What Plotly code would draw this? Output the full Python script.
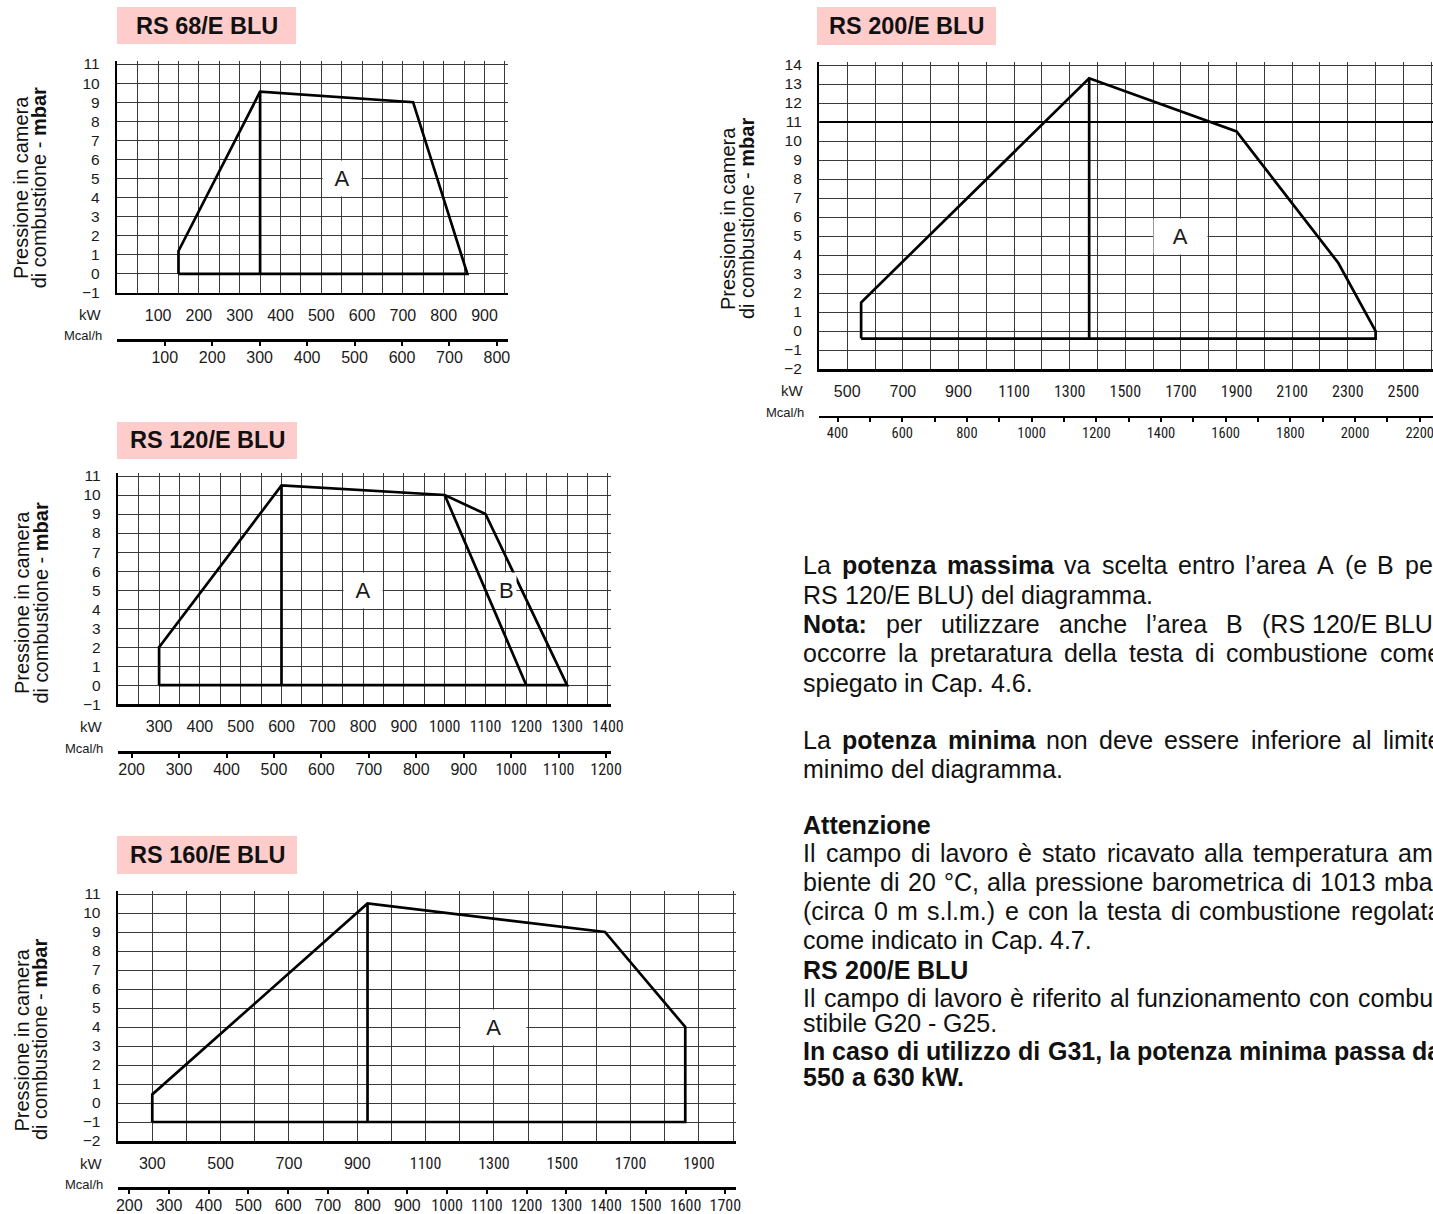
import plotly.graph_objects as go

W, H = 1433, 1214
KW_PER_MCAL = 1.163

# ------------------------------------------------------------------ data
titles = ["RS 68/E BLU", "RS 120/E BLU", "RS 160/E BLU", "RS 200/E BLU"]

# RS 68/E BLU
rs68_kw = [150, 150, 350, 725, 858, 150]
rs68_mbar = [0, 1.2, 9.55, 9.0, 0, 0]
rs68_split_kw = [350, 350]
rs68_split_mbar = [0, 9.55]
rs68_areas = ["A"]
rs68_area_kw = [550]
rs68_area_mbar = [5]
rs68_kw_range = [0, 950]
rs68_mbar_range = [-1, 11]
rs68_kw_labels = [100, 200, 300, 400, 500, 600, 700, 800, 900]
rs68_mcal_ticks = [100, 200, 300, 400, 500, 600, 700, 800]
rs68_mcal_labels = [100, 200, 300, 400, 500, 600, 700, 800]

# RS 120/E BLU
rs120_kw = [300, 300, 600, 1000, 1100, 1300, 300]
rs120_mbar = [0, 2.0, 10.5, 10.0, 9.0, 0, 0]
rs120_split_kw = [600, 600]
rs120_split_mbar = [0, 10.5]
rs120_ab_kw = [1000, 1200]
rs120_ab_mbar = [10.0, 0]
rs120_areas = ["A", "B"]
rs120_area_kw = [800, 1150]
rs120_area_mbar = [5, 5]
rs120_kw_range = [200, 1400]
rs120_mbar_range = [-1, 11]
rs120_kw_labels = [300, 400, 500, 600, 700, 800, 900, 1000, 1100, 1200, 1300, 1400]
rs120_mcal_ticks = [200, 300, 400, 500, 600, 700, 800, 900, 1000, 1100, 1200]
rs120_mcal_labels = [200, 300, 400, 500, 600, 700, 800, 900, 1000, 1100, 1200]

# RS 160/E BLU
rs160_kw = [300, 300, 930, 1625, 1860, 1860, 300]
rs160_mbar = [-1, 0.45, 10.5, 9.0, 4.0, -1, -1]
rs160_split_kw = [930, 930]
rs160_split_mbar = [-1, 10.5]
rs160_areas = ["A"]
rs160_area_kw = [1300]
rs160_area_mbar = [4]
rs160_kw_range = [200, 2000]
rs160_mbar_range = [-2, 11]
rs160_kw_labels = [300, 500, 700, 900, 1100, 1300, 1500, 1700, 1900]
rs160_mcal_ticks = [200, 300, 400, 500, 600, 700, 800, 900, 1000, 1100, 1200,
                    1300, 1400, 1500, 1600, 1700]
rs160_mcal_labels = [200, 300, 400, 500, 600, 700, 800, 900, 1000, 1100, 1200,
                     1300, 1400, 1500, 1600, 1700]

# RS 200/E BLU
rs200_kw = [550, 550, 1370, 1900, 2265, 2400, 2400, 550]
rs200_mbar = [-0.4, 1.5, 13.3, 10.5, 3.6, 0, -0.4, -0.4]
rs200_split_kw = [1370, 1370]
rs200_split_mbar = [-0.4, 13.3]
rs200_limit_mbar = 11
rs200_areas = ["A"]
rs200_area_kw = [1700]
rs200_area_mbar = [5]
rs200_kw_range = [400, 2600]
rs200_mbar_range = [-2, 14]
rs200_kw_labels = [500, 700, 900, 1100, 1300, 1500, 1700, 1900, 2100, 2300, 2500]
rs200_mcal_ticks = [400, 500, 600, 700, 800, 900, 1000, 1100, 1200, 1300, 1400,
                    1500, 1600, 1700, 1800, 1900, 2000, 2100, 2200]
rs200_mcal_labels = [400, 600, 800, 1000, 1200, 1400, 1600, 1800, 2000, 2200]

y_title_1 = "Pressione in camera"
y_title_2 = "di combustione - <b>mbar</b>"

text_lines = [
    (574.0, True, "La **potenza massima** va scelta entro l\u2019area A (e B per"),
    (603.3, False, "RS 120/E BLU) del diagramma."),
    (632.6, True, "**Nota:** per utilizzare anche l\u2019area B (RS\u00a0120/E\u00a0BLU)"),
    (661.9, True, "occorre la pretaratura della testa di combustione come"),
    (691.2, False, "spiegato in Cap. 4.6."),
    (748.6, True, "La **potenza minima** non deve essere inferiore al limite"),
    (777.9, False, "minimo del diagramma."),
    (833.3, False, "**Attenzione**"),
    (861.9, True, "Il campo di lavoro \u00e8 stato ricavato alla temperatura am-"),
    (891.0, True, "biente di 20 \u00b0C, alla pressione barometrica di 1013 mbar"),
    (920.0, True, "(circa 0 m s.l.m.) e con la testa di combustione regolata"),
    (949.0, False, "come indicato in Cap. 4.7."),
    (978.3, False, "**RS 200/E BLU**"),
    (1006.7, True, "Il campo di lavoro \u00e8 riferito al funzionamento con combu-"),
    (1031.7, False, "stibile G20 - G25."),
    (1059.3, True, "**In caso di utilizzo di G31, la potenza minima passa da**"),
    (1086.0, False, "**550 a 630 kW.**"),
]

# ------------------------------------------------------------------ layout config
FONT = "Liberation Sans, Arial, Helvetica, sans-serif"
NARROW = "Liberation Sans Narrow, Arial Narrow, Roboto Condensed, Liberation Sans, sans-serif"
GRID = "#3a3a3a"

charts = [
    dict(title=titles[0], kw=rs68_kw, mbar=rs68_mbar,
         lines=[(rs68_split_kw, rs68_split_mbar)],
         areas=(rs68_areas, rs68_area_kw, rs68_area_mbar, [2]),
         kw_range=rs68_kw_range, kw_step=50, mbar_range=rs68_mbar_range,
         kw_labels=rs68_kw_labels, mcal_ticks=rs68_mcal_ticks, mcal_labels=rs68_mcal_labels,
         hline=None, L=117.3, T=64, ppx=0.408, ppy=19.08, mcal_y=340,
         box=(117, 7, 296, 44), yt=(21.4, 39.8, 187.5), nk=99, nm=99, mfs=16),
    dict(title=titles[1], kw=rs120_kw, mbar=rs120_mbar,
         lines=[(rs120_split_kw, rs120_split_mbar), (rs120_ab_kw, rs120_ab_mbar)],
         areas=(rs120_areas, rs120_area_kw, rs120_area_mbar, [2, 1.15]),
         kw_range=rs120_kw_range, kw_step=50, mbar_range=rs120_mbar_range,
         kw_labels=rs120_kw_labels, mcal_ticks=rs120_mcal_ticks, mcal_labels=rs120_mcal_labels,
         hline=None, L=118.3, T=476, ppx=0.408, ppy=19.02, mcal_y=752,
         box=(117, 422, 297, 459), yt=(22.0, 40.5, 603), nk=4, nm=4, mfs=16),
    dict(title=titles[2], kw=rs160_kw, mbar=rs160_mbar,
         lines=[(rs160_split_kw, rs160_split_mbar)],
         areas=(rs160_areas, rs160_area_kw, rs160_area_mbar, [2]),
         kw_range=rs160_kw_range, kw_step=100, mbar_range=rs160_mbar_range,
         kw_labels=rs160_kw_labels, mcal_ticks=rs160_mcal_ticks, mcal_labels=rs160_mcal_labels,
         hline=None, L=118.1, T=894, ppx=0.34167, ppy=19.0, mcal_y=1188,
         box=(117, 836, 297, 874), yt=(21.5, 40.0, 1040), nk=4, nm=4, mfs=16),
    dict(title=titles[3], kw=rs200_kw, mbar=rs200_mbar,
         lines=[(rs200_split_kw, rs200_split_mbar)],
         areas=(rs200_areas, rs200_area_kw, rs200_area_mbar, [2]),
         kw_range=rs200_kw_range, kw_step=100, mbar_range=rs200_mbar_range,
         kw_labels=rs200_kw_labels, mcal_ticks=rs200_mcal_ticks, mcal_labels=rs200_mcal_labels,
         hline=rs200_limit_mbar, L=819.4, T=65, ppx=0.2781, ppy=19.0, mcal_y=416.7,
         box=(817, 7, 996, 45), yt=(728.0, 747.0, 219), nk=4, nm=0, mfs=14.5),
]


def px_x(p):
    return p / W


def px_y(p):
    return 1 - p / H


def tick_txt(v, narrow_from):
    s = str(v)
    if len(s) >= narrow_from:
        return '<span style="font-family:%s">%s</span>' % (NARROW, s)
    return s


fig = go.Figure()
layout = {}
annotations = []
shapes = []

for i, c in enumerate(charts):
    n = i + 1
    xid = "x" if n == 1 else "x%d" % n
    yid = "y" if n == 1 else "y%d" % n
    mid = "x%d" % (n + 4)
    xkey = "xaxis" if n == 1 else "xaxis%d" % n
    ykey = "yaxis" if n == 1 else "yaxis%d" % n
    mkey = "xaxis%d" % (n + 4)

    k0, k1 = c["kw_range"]
    y0, y1 = c["mbar_range"]
    ppx, ppy = c["ppx"], c["ppy"]
    Lpx = c["L"]
    Rpx = Lpx + (k1 - k0) * ppx
    pad_r = min(3.0, W - Rpx - 0.05)
    k1e = k1 + pad_r / ppx
    Tpx = c["T"]
    Bpx = Tpx + (y1 - y0) * ppy
    y1e = y1 + 3.0 / ppy

    grid = list(range(k0, k1 + 1, c["kw_step"]))
    kw_text = [tick_txt(g, c["nk"]) if g in c["kw_labels"] else "" for g in grid]

    layout[xkey] = dict(
        domain=[px_x(Lpx), px_x(Rpx + pad_r)], anchor=yid, range=[k0, k1e],
        tickmode="array", tickvals=grid, ticktext=kw_text,
        showgrid=True, gridcolor=GRID, gridwidth=1, zeroline=False,
        showline=True, linecolor="black", linewidth=2.5, mirror=False,
        ticks="", ticklabelstandoff=6, ticklabeloverflow="allow",
        tickfont=dict(family=FONT, size=16, color="#1a1a1a"), fixedrange=True,
    )
    layout[ykey] = dict(
        domain=[px_y(Bpx), px_y(Tpx - 3.0)], anchor=xid, range=[y0, y1e],
        tickmode="array", tickvals=list(range(y0, y1 + 1)),
        showgrid=True, gridcolor=GRID, gridwidth=1, zeroline=False,
        showline=True, linecolor="black", linewidth=2.5, mirror=False,
        ticks="", ticklabelstandoff=12,
        tickfont=dict(family=FONT, size=15.5, color="#1a1a1a"), fixedrange=True,
    )
    mcal_text = [tick_txt(t, c["nm"]) if t in c["mcal_labels"] else "" for t in c["mcal_ticks"]]
    layout[mkey] = dict(
        overlaying=xid, anchor="free", position=px_y(c["mcal_y"]), side="bottom",
        range=[k0 / KW_PER_MCAL, k1e / KW_PER_MCAL],
        tickmode="array", tickvals=c["mcal_ticks"], ticktext=mcal_text,
        showgrid=False, zeroline=False, showline=True, linecolor="black", linewidth=2.5,
        ticks="outside", ticklen=4, tickwidth=2, tickcolor="black", ticklabelstandoff=-2,
        ticklabeloverflow="allow",
        tickfont=dict(family=FONT, size=c["mfs"], color="#1a1a1a"), fixedrange=True,
    )

    # envelope and internal lines
    fig.add_trace(go.Scatter(x=c["kw"], y=c["mbar"], mode="lines", xaxis=xid, yaxis=yid,
                             line=dict(color="black", width=2.7), hoverinfo="skip",
                             showlegend=False, cliponaxis=False))
    for lx, ly in c["lines"]:
        fig.add_trace(go.Scatter(x=lx, y=ly, mode="lines", xaxis=xid, yaxis=yid,
                                 line=dict(color="black", width=2.7), hoverinfo="skip",
                                 showlegend=False, cliponaxis=False))
    fig.add_trace(go.Scatter(x=[None], y=[None], mode="lines", xaxis=mid, yaxis=yid,
                             hoverinfo="skip", showlegend=False))

    if c["hline"] is not None:
        shapes.append(dict(type="line", xref="%s domain" % xid, yref=yid, x0=0, x1=1,
                           y0=c["hline"], y1=c["hline"], line=dict(color="black", width=2.2)))

    # area letters
    names, akw, ambar, acols = c["areas"]
    for nm_, ax_, ay_, cols in zip(names, akw, ambar, acols):
        annotations.append(dict(x=ax_, y=ay_, xref=xid, yref=yid, text=nm_, showarrow=False,
                                bgcolor="white", borderpad=0,
                                width=cols * c["kw_step"] * ppx - 3, height=2 * ppy - 3,
                                font=dict(family=FONT, size=22, color="#1a1a1a")))

    # title box
    bx0, by0, bx1, by1 = c["box"]
    shapes.append(dict(type="rect", xref="paper", yref="paper", x0=px_x(bx0), x1=px_x(bx1),
                       y0=px_y(by1), y1=px_y(by0), fillcolor="#FFCCCC", line=dict(width=0),
                       layer="below"))
    annotations.append(dict(x=px_x((bx0 + bx1) / 2), y=px_y((by0 + by1) / 2), xref="paper",
                            yref="paper", text="<b>%s</b>" % c["title"], showarrow=False,
                            xanchor="center", yanchor="middle", borderpad=0,
                            font=dict(family=FONT, size=23.5, color="#111111")))

    # y titles
    t1x, t2x, ty = c["yt"]
    for tx, tt in ((t1x, y_title_1), (t2x, y_title_2)):
        annotations.append(dict(x=px_x(tx), y=px_y(ty), xref="paper", yref="paper", text=tt,
                                textangle=-90, showarrow=False, xanchor="center",
                                yanchor="middle", borderpad=0,
                                font=dict(family=FONT, size=20, color="#111111")))

    # unit labels
    annotations.append(dict(x=px_x(Lpx - 14), y=px_y(Bpx + 22), xref="paper", yref="paper",
                            text="kW", showarrow=False, xanchor="right", yanchor="middle",
                            borderpad=0, font=dict(family=FONT, size=15, color="#1a1a1a")))
    annotations.append(dict(x=px_x(Lpx - 14), y=px_y(c["mcal_y"] - 4), xref="paper",
                            yref="paper", text="Mcal/h", showarrow=False, xanchor="right",
                            yanchor="middle", borderpad=0,
                            font=dict(family=FONT, size=13, color="#1a1a1a")))

# ------------------------------------------------------------------ text block
REG = {' ': 278, '\u00a0': 278, '(': 333, ')': 333, ',': 278, '-': 333, '.': 278, '/': 278,
       ':': 278, '\u2019': 222, '\u00b0': 400, '\u00e8': 556,
       'A': 667, 'B': 667, 'C': 722, 'D': 722, 'E': 667, 'F': 611, 'G': 778, 'H': 722,
       'I': 278, 'L': 556, 'M': 833, 'N': 722, 'O': 778, 'P': 667, 'R': 722, 'S': 667,
       'T': 611, 'U': 722, 'W': 944,
       'a': 556, 'b': 556, 'c': 500, 'd': 556, 'e': 556, 'f': 278, 'g': 556, 'h': 556,
       'i': 222, 'j': 222, 'k': 500, 'l': 222, 'm': 833, 'n': 556, 'o': 556, 'p': 556,
       'q': 556, 'r': 333, 's': 500, 't': 278, 'u': 556, 'v': 500, 'w': 722, 'x': 500,
       'y': 500, 'z': 500}
BOLD = {' ': 278, '\u00a0': 278, '(': 333, ')': 333, ',': 278, '-': 333, '.': 278, '/': 278,
        ':': 333, 'A': 722, 'B': 722, 'C': 722, 'D': 722, 'E': 667, 'G': 778, 'I': 278,
        'L': 611, 'N': 722, 'R': 722, 'S': 667, 'U': 722, 'W': 944,
        'a': 556, 'b': 611, 'c': 556, 'd': 611, 'e': 556, 'f': 333, 'g': 611, 'h': 611,
        'i': 278, 'k': 556, 'l': 278, 'm': 889, 'n': 611, 'o': 611, 'p': 611, 'r': 389,
        's': 556, 't': 333, 'u': 611, 'v': 556, 'z': 500}
TXT_SIZE = 25
TXT_X0 = 802
TXT_RIGHT = 1440


def word_w(w, b):
    tab = BOLD if b else REG
    return sum(tab.get(ch, 556) for ch in w) / 1000.0 * TXT_SIZE


def parse(line):
    out, bold = [], False
    for w in line.split(" "):
        b = bold
        if w.startswith("**"):
            w, b, bold = w[2:], True, True
        if w.endswith("**"):
            w, bold = w[:-2], False
        out.append((w, b))
    return out


for base, just, line in text_lines:
    words = parse(line)
    widths = [word_w(w, b) for w, b in words]
    if just and len(words) > 1:
        gap = (TXT_RIGHT - TXT_X0 - sum(widths)) / (len(words) - 1)
    else:
        gap = 0.278 * TXT_SIZE
    xpos = TXT_X0
    for (w, b), ww in zip(words, widths):
        annotations.append(dict(x=px_x(xpos), y=px_y(base - 8.7), xref="paper", yref="paper",
                                text=("<b>%s</b>" % w) if b else w, showarrow=False,
                                xanchor="left", yanchor="middle", borderpad=0,
                                font=dict(family=FONT, size=TXT_SIZE, color="#111111")))
        xpos += ww + gap

fig.update_layout(
    width=W, height=H, template="none", autosize=False,
    margin=dict(l=0, r=0, t=0, b=0, pad=0),
    paper_bgcolor="white", plot_bgcolor="white", showlegend=False,
    annotations=annotations, shapes=shapes, **layout,
)

fig.write_html("out.html",
               config={"displayModeBar": False, "staticPlot": True},
               post_script="document.body.style.margin='0';"
                           "document.body.style.overflow='hidden';")
